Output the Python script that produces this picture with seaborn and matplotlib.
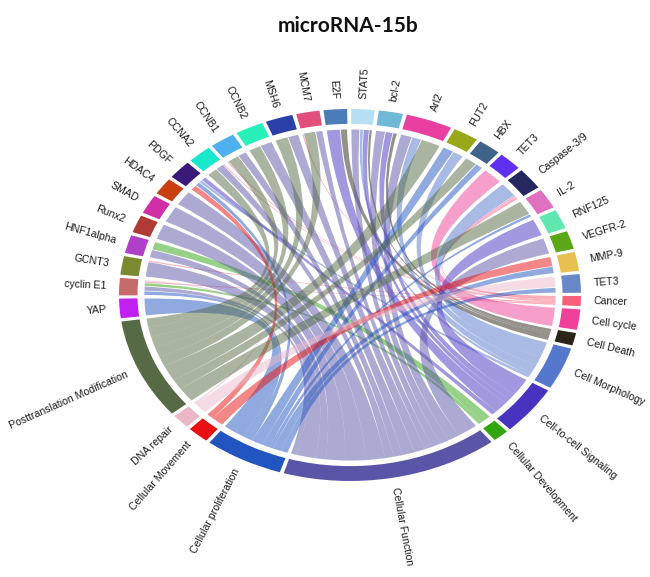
import numpy as np
import seaborn as sns
import matplotlib
matplotlib.use("Agg")
import matplotlib.pyplot as plt
from matplotlib.patches import PathPatch, Wedge
from matplotlib.path import Path

# --- DATA (clockwise round the circle, starting at Cancer) ---
function_labels = ["Cancer", "Cell cycle", "Cell Death", "Cell Morphology", "Cell-to-cell Signaling",
                   "Cellular Development", "Cellular Function", "Cellular proliferation",
                   "Cellular Movement", "DNA repair", "Posttranslation Modification"]
function_colors = ["#f8607a", "#ee4099", "#2b2418", "#5578cc", "#4633c0", "#30a510",
                   "#5b55a8", "#2355c0", "#e81010", "#ecb8c8", "#556a45"]

gene_labels = ["YAP", "cyclin E1", "GCNT3", "HNF1alpha", "Runx2", "SMAD", "HDAC4", "PDGF", "CCNA2",
               "CCNB1", "CCNB2", "MSH6", "MCM7", "E2F", "STAT5", "bcl-2", "Arl2", "FUT2", "HBX", "TET3",
               "Caspase-3/9", "IL-2", "RNF125", "VEGFR-2", "MMP-9", "TET3"]
gene_colors = ["#c020f0", "#c56a6a", "#7a8a30", "#b040c8", "#b03a35", "#d02fa8", "#c84010", "#3a1a78",
               "#18e8cc", "#4fb0f0", "#28f0b8", "#2a3fa8", "#e0507a", "#4a7cb8", "#b8e0f5", "#70b8d8",
               "#e83fa0", "#98a818", "#3e6488", "#6030f0", "#24285e", "#e070c0", "#60e8b0", "#5aa818",
               "#e8c050", "#6888c8"]

# per gene: function index and width, listed clockwise
CAN, CYC, DEA, MOR, C2C, DEV, FUN, PRO, MOV, DNA, PTM = range(11)
gene_links = [
    [(PRO, 6.2)],
    [(PRO, 1.5), (FUN, 1.7), (DEV, 1.2), (CAN, 0.5), (DNA, 0.6)],
    [(FUN, 5.4), (CAN, 0.5)],
    [(FUN, 2.9), (DEV, 2.9)],
    [(FUN, 5.6)],
    [(FUN, 6.0)],
    [(FUN, 5.4)],
    [(MOV, 2.0), (PRO, 1.5), (MOR, 1.0), (C2C, 1.5)],
    [(PTM, 3.2), (FUN, 2.5), (CAN, 0.4)],
    [(CAN, 0.4), (PTM, 3.4), (FUN, 2.6)],
    [(PTM, 3.6), (FUN, 3.6)],
    [(PTM, 3.8), (FUN, 3.2)],
    [(CAN, 0.4), (PTM, 3.5), (FUN, 2.1)],
    [(C2C, 4.0), (DEA, 2.0)],
    [(FUN, 2.5), (MOR, 1.0), (C2C, 1.7), (DEA, 0.8)],
    [(FUN, 2.8), (C2C, 2.2), (DEA, 1.2)],
    [(FUN, 3.4), (MOR, 2.8), (PTM, 5.7)],
    [(PRO, 3.3), (MOR, 3.2)],
    [(PTM, 3.6), (PRO, 2.2)],
    [(CYC, 6.0)],
    [(MOR, 5.4), (CYC, 0.5), (CAN, 1.0)],
    [(PTM, 5.2), (PRO, 1.1)],
    [(C2C, 6.2)],
    [(FUN, 5.8)],
    [(MOV, 3.5), (PRO, 2.5)],
    [(DNA, 4.0), (PRO, 1.9)],
]

# --- GEOMETRY ---
W, H = 650, 577
CX, CY, RX, RY = 350, 295, 231, 186
R_LINK, R_IN = 0.89, 0.92
START, GAP = -0.3, 1.0

sns.set_theme(style="white")
plt.rcParams['font.family'] = ['Liberation Sans', 'DejaVu Sans']

func_sizes = np.zeros(len(function_labels))
for links in gene_links:
    for f, v in links:
        func_sizes[f] += v
gene_sizes = [sum(v for _, v in links) for links in gene_links]
sizes = list(func_sizes) + gene_sizes
labels = function_labels + gene_labels
colors = sns.color_palette(function_colors + gene_colors)
scale = (360 - GAP * len(sizes)) / sum(sizes)

fig = plt.figure(figsize=(W / 100, H / 100), dpi=100)
ax = fig.add_axes([0, 0, 1, 1])
ax.set_xlim(-CX / RX, (W - CX) / RX)
ax.set_ylim(-(H - CY) / RY, CY / RY)
ax.axis("off")

# sectors, clockwise
starts = []
a = START
for s, c, lab in zip(sizes, colors, labels):
    ext = s * scale
    starts.append(a)
    ax.add_patch(Wedge((0, 0), 1.0, a - ext, a, width=1.0 - R_IN, fc=c, ec="none"))
    mid = np.deg2rad(a - ext / 2)
    deg = np.rad2deg(mid) % 360
    left = 90 < deg < 270
    ax.text(1.055 * np.cos(mid), 1.055 * np.sin(mid), lab, fontsize=7.6, color="#1a1a1a",
            rotation=deg - 180 if left else deg, rotation_mode="anchor",
            ha="right" if left else "left", va="center")
    a -= ext + GAP


def arc(a1, a2):
    t = np.deg2rad(np.linspace(a1, a2, 12))
    return np.c_[R_LINK * np.cos(t), R_LINK * np.sin(t)]


def ribbon(a1, a2, b1, b2, color):
    # a1 -> a2 along one end, then a2 joins b1, b2 joins a1
    p, q = arc(a1, a2), arc(b1, b2)
    verts = list(p) + [(0, 0), q[0]] + list(q[1:]) + [(0, 0), p[0], p[0]]
    codes = [Path.MOVETO] + [Path.LINETO] * (len(p) - 1) + [Path.CURVE3, Path.CURVE3] \
        + [Path.LINETO] * (len(q) - 1) + [Path.CURVE3, Path.CURVE3, Path.CLOSEPOLY]
    ax.add_patch(PathPatch(Path(verts, codes), fc=color, ec="none", alpha=0.5))


# gene ends of the links, in listed order
ends = {f: [] for f in range(len(function_labels))}
n_f = len(function_labels)
for g, links in enumerate(gene_links):
    a = starts[n_f + g]
    for f, v in links:
        ends[f].append((a, a - v * scale))
        a -= v * scale

# function ends, ordered so neighbouring ribbons do not twist
for f, chunks in ends.items():
    mid = starts[f] - func_sizes[f] * scale / 2
    a = starts[f]
    width = [(c[0] - c[1]) for c in chunks]
    order = sorted(range(len(chunks)), key=lambda i: -((mid - chunks[i][0]) % 360))
    for i in order:
        pad = min(0.12, width[i] * 0.1)
        ribbon(chunks[i][0] - pad, chunks[i][1] + pad, a, a - width[i], colors[f])
        a -= width[i]

fig.text(348 / W, 1 - 26 / H, "microRNA-15b", fontsize=15, fontweight="bold", family="Lato",
         color="#111111", ha="center", va="center")
fig.savefig("out.png", dpi=100)
